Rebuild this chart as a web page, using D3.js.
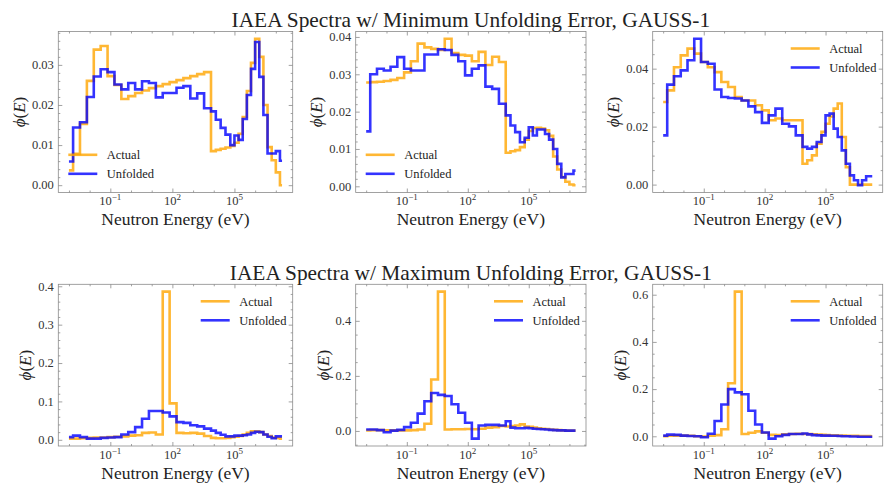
<!DOCTYPE html>
<html>
<head>
<meta charset="utf-8">
<script src="https://cdn.jsdelivr.net/npm/d3@7"></script>
<style>
  body { margin: 0; background: #fff; }
  text { font-family: "Liberation Serif", "Times New Roman", serif; fill: #222; }
</style>
</head>
<body>
<div id="container"></div>
<script>
// group boundaries (eV), shared by every spectrum
const energyEdges = [1e-3, 1.585e-3, 3.412e-3, 7.356e-3, 1.585e-2, 3.412e-2, 7.356e-2, 0.1585, 0.3412, 0.7356,
    1.585, 3.412, 7.356, 15.85, 34.12, 73.56, 158.5, 341.2, 735.6, 1585, 3412, 7356, 1.259e4, 2.153e4, 3.690e4,
    6.310e4, 1e5, 1.585e5, 2.512e5, 3.981e5, 6.310e5, 1e6, 1.585e6, 2.512e6, 3.981e6, 6.310e6, 1e7, 1.585e7, 2e7]

// minimum unfolding error spectra
const minActual1 = [0.0037, 0.0078, 0.0153, 0.026, 0.0338, 0.0347, 0.0272, 0.025, 0.0215, 0.0222, 0.023, 0.0236, 0.0242,
    0.0247, 0.0252, 0.0257, 0.0262, 0.0267, 0.0272, 0.0277, 0.0282, 0.0085, 0.0088, 0.0091, 0.0094, 0.0098, 0.0106,
    0.0128, 0.017, 0.0235, 0.0305, 0.0365, 0.032, 0.02, 0.0095, 0.0062, 0.0032, 0.0]
const minUnfolded1 = [0.0059, 0.0144, 0.0157, 0.022, 0.0271, 0.0289, 0.0282, 0.0251, 0.0239, 0.0255, 0.0239, 0.0259,
    0.0255, 0.0219, 0.023, 0.023, 0.0243, 0.0247, 0.0216, 0.0229, 0.0192, 0.0184, 0.0163, 0.0143, 0.0126, 0.0100,
    0.0124, 0.0113, 0.0165, 0.0225, 0.029, 0.0357, 0.027, 0.0175, 0.0079, 0.0079, 0.0085, 0.0061]
const minActual2 = [0.0278, 0.0279, 0.028, 0.0282, 0.0285, 0.029, 0.0305, 0.0335, 0.0382, 0.0372, 0.0368, 0.0365, 0.0395,
    0.0357, 0.0352, 0.035, 0.0335, 0.036, 0.0325, 0.0347, 0.0333, 0.009, 0.0094, 0.0097, 0.0105, 0.0125, 0.0148,
    0.0156, 0.0157, 0.0155, 0.015, 0.0135, 0.008, 0.0045, 0.0025, 0.0012, 0.0005, 0.0003]
const minUnfolded2 = [0.0147, 0.030, 0.0315, 0.031, 0.032, 0.0346, 0.0315, 0.031, 0.031, 0.0353, 0.0353, 0.0367, 0.0365,
    0.0352, 0.0335, 0.0297, 0.0315, 0.0324, 0.0267, 0.0261, 0.0221, 0.019, 0.0163, 0.0145, 0.0118, 0.013, 0.0158,
    0.0136, 0.0152, 0.0152, 0.014, 0.0125, 0.01, 0.006, 0.0024, 0.0033, 0.0033, 0.0042]
const minActual3 = [0.0285, 0.0325, 0.0405, 0.0446, 0.0469, 0.0452, 0.0423, 0.0405, 0.0388, 0.0354, 0.0337, 0.0302, 0.029,
    0.029, 0.0274, 0.0256, 0.0222, 0.0228, 0.0222, 0.0222, 0.0222, 0.0072, 0.0084, 0.0101, 0.0141, 0.0182, 0.021,
    0.0235, 0.0262, 0.028, 0.0164, 0.006, 0.0, 0.0, 0.0, 0.0, 0.0, 0.0]
const minUnfolded3 = [0.017, 0.0345, 0.0374, 0.0394, 0.0429, 0.0503, 0.0423, 0.0417, 0.0328, 0.0302, 0.0299, 0.0297, 0.029,
    0.027, 0.025, 0.0213, 0.0239, 0.0262, 0.021, 0.0201, 0.017, 0.013, 0.0124, 0.013, 0.0147, 0.017, 0.0239, 0.0245,
    0.0193, 0.0164, 0.0118, 0.0072, 0.0032, 0.0015, -0.0002, 0.0015, 0.0029, 0.0029]

// maximum unfolding error spectra
const maxActual1 = [0.003, 0.003, 0.004, 0.005, 0.006, 0.006, 0.007, 0.008, 0.009, 0.011, 0.012, 0.018, 0.019, 0.014,
    0.386, 0.095, 0.018, 0.017, 0.018, 0.016, 0.01, 0.005, 0.004, 0.004, 0.005, 0.007, 0.008, 0.01, 0.014, 0.018,
    0.022, 0.022, 0.02, 0.014, 0.01, 0.006, 0.005, 0.003]
const maxUnfolded1 = [0.007, 0.011, 0.007, 0.003, 0.003, 0.005, 0.006, 0.007, 0.014, 0.02, 0.033, 0.055, 0.075, 0.075,
    0.071, 0.061, 0.046, 0.044, 0.038, 0.035, 0.029, 0.024, 0.018, 0.013, 0.009, 0.009, 0.011, 0.011, 0.012, 0.014,
    0.018, 0.021, 0.02, 0.014, 0.008, 0.004, 0.009, 0.009]
const maxActual2 = [0.002, 0.003, 0.003, 0.002, 0.002, 0.002, 0.002, 0.003, 0.005, 0.026, 0.187, 0.506, 0.005, 0.006,
    0.006, 0.007, 0.006, 0.008, 0.012, 0.014, 0.018, 0.016, 0.018, 0.02, 0.024, 0.016, 0.015, 0.012, 0.01, 0.008,
    0.007, 0.005, 0.004, 0.003, 0.002, 0.001, 0.001, 0.001]
const maxUnfolded2 = [0.005, 0.005, 0.003, -0.005, 0.001, 0.004, 0.014, 0.03, 0.063, 0.108, 0.138, 0.131, 0.127, 0.097,
    0.066, 0.03, -0.028, 0.02, 0.022, 0.022, 0.02, 0.035, 0.012, 0.01, 0.01, 0.011, 0.01, 0.008, 0.007, 0.006, 0.005,
    0.004, 0.003, 0.002, 0.002, 0.001, 0.001, 0.001]
const maxActual3 = [0.0, 0.002, 0.003, 0.003, 0.002, 0.0, -0.001, 0.002, 0.005, 0.03, 0.225, 0.613, 0.01, 0.015, 0.021,
    0.015, 0.006, 0.005, 0.008, 0.01, 0.011, 0.01, 0.009, 0.008, 0.007, 0.006, 0.005, 0.004, 0.004, 0.003, 0.003,
    0.002, 0.002, 0.002, 0.001, 0.001, 0.001, 0.0]
const maxUnfolded3 = [0.003, 0.007, 0.006, 0.003, 0.001, 0.0, -0.004, 0.011, 0.065, 0.135, 0.2, 0.186, 0.178, 0.108,
    0.05, 0.016, -0.01, 0.0, 0.006, 0.01, 0.01, 0.012, 0.008, 0.005, 0.004, 0.003, 0.003, 0.002, 0.002, 0.001, 0.0,
    0.0, -0.001, -0.001, -0.002, -0.002, -0.002, -0.002]

// tick labels
const xTickExps = [-1, 2, 5]
const yTicksMin = [[0, 0.01, 0.02, 0.03], [0, 0.01, 0.02, 0.03, 0.04], [0, 0.02, 0.04]]
const yTicksMax = [[0, 0.1, 0.2, 0.3, 0.4], [0, 0.2, 0.4], [0, 0.2, 0.4, 0.6]]
const seriesNames = ["Actual", "Unfolded"]
const titles = ["IAEA Spectra w/ Minimum Unfolding Error, GAUSS-1", "IAEA Spectra w/ Maximum Unfolding Error, GAUSS-1"]

const width = 884
const height = 486
const colors = ["orange", "blue"]
const frameColor = "#8a8a8a"

const svg = d3.select("#container").append("svg")
    .attr("width", width)
    .attr("height", height)

const cols = [[58.3, 292.7], [355.7, 586], [652.7, 882.7]]
const rows = [[31.5, 192.5], [284.3, 446]]

const panels = [
    { col: 0, row: 0, series: [minActual1, minUnfolded1], ticks: yTicksMin[0], fmt: ".2f", legend: "ll" },
    { col: 1, row: 0, series: [minActual2, minUnfolded2], ticks: yTicksMin[1], fmt: ".2f", legend: "ll" },
    { col: 2, row: 0, series: [minActual3, minUnfolded3], ticks: yTicksMin[2], fmt: ".2f", legend: "ur" },
    { col: 0, row: 1, series: [maxActual1, maxUnfolded1], ticks: yTicksMax[0], fmt: ".1f", legend: "ur" },
    { col: 1, row: 1, series: [maxActual2, maxUnfolded2], ticks: yTicksMax[1], fmt: ".1f", legend: "ur" },
    { col: 2, row: 1, series: [maxActual3, maxUnfolded3], ticks: yTicksMax[2], fmt: ".1f", legend: "ur" }
]

function drawPanel(p) {
    const [x0, x1] = cols[p.col]
    const [y0, y1] = rows[p.row]

    const lo = Math.log10(energyEdges[0])
    const hi = Math.log10(energyEdges[energyEdges.length - 1])
    const padX = (hi - lo) * 0.05
    const x = d3.scaleLog()
        .domain([10 ** (lo - padX), 10 ** (hi + padX)])
        .range([x0, x1])

    const all = p.series[0].concat(p.series[1])
    const ymin = d3.min(all), ymax = d3.max(all)
    const padY = (ymax - ymin) * 0.05
    const y = d3.scaleLinear()
        .domain([ymin - padY, ymax + padY])
        .range([y1, y0])

    const g = svg.append("g")

    const line = d3.line()
        .x(d => x(d[0]))
        .y(d => y(d[1]))
        .curve(d3.curveStepAfter)
    const steps = vals => vals.map((v, i) => [energyEdges[i], v])
        .concat([[energyEdges[vals.length], vals[vals.length - 1]]])

    p.series.forEach((vals, i) => {
        g.append("path")
            .attr("d", line(steps(vals)))
            .attr("fill", "none")
            .attr("stroke", colors[i])
            .attr("stroke-opacity", 0.8)
            .attr("stroke-width", 2.6)
            .attr("stroke-linejoin", "miter")
    })

    // frame
    g.append("rect")
        .attr("x", x0).attr("y", y0)
        .attr("width", x1 - x0).attr("height", y1 - y0)
        .attr("fill", "none")
        .attr("stroke", frameColor)
        .attr("stroke-width", 0.8)

    // ticks, inward on all four sides
    const xMajor = xTickExps.map(e => 10 ** e)
    const xMinor = d3.range(Math.ceil(lo - padX), Math.floor(hi + padX) + 1)
        .filter(e => !xTickExps.includes(e)).map(e => 10 ** e)

    const step = p.ticks[1] - p.ticks[0]
    const mant = step / 10 ** Math.floor(Math.log10(step) + 1e-9)
    const ndivs = [1, 2.5, 5, 10].some(m => Math.abs(m - mant) < 1e-6) ? 5 : 4
    const ms = step / ndivs
    const [d0, d1] = y.domain()
    const yMinor = d3.range(Math.ceil(d0 / ms - 1e-9), Math.floor(d1 / ms + 1e-9) + 1)
        .map(k => k * ms)
        .filter(v => !p.ticks.some(t => Math.abs(t - v) < ms / 10))

    const tickAxis = (axisFn, scale, vals, size, tx, ty) => {
        g.append("g")
            .attr("transform", `translate(${tx},${ty})`)
            .attr("color", frameColor)
            .call(axisFn(scale).tickValues(vals).tickSize(-size).tickFormat(""))
            .call(a => a.select(".domain").remove())
            .call(a => a.selectAll("line").attr("stroke-width", 0.8))
    }
    tickAxis(d3.axisBottom, x, xMajor, 4, 0, y1)
    tickAxis(d3.axisBottom, x, xMinor, 2, 0, y1)
    tickAxis(d3.axisTop, x, xMajor, 4, 0, y0)
    tickAxis(d3.axisTop, x, xMinor, 2, 0, y0)
    tickAxis(d3.axisLeft, y, p.ticks, 4, x0, 0)
    tickAxis(d3.axisLeft, y, yMinor, 2, x0, 0)
    tickAxis(d3.axisRight, y, p.ticks, 4, x1, 0)
    tickAxis(d3.axisRight, y, yMinor, 2, x1, 0)

    // x tick labels 10^n
    xTickExps.forEach(e => {
        const t = g.append("text")
            .attr("x", x(10 ** e))
            .attr("y", y1 + 12.5)
            .attr("text-anchor", "middle")
            .attr("font-size", 12.5)
            .style("fill", "#333")
        t.append("tspan").text("10")
        t.append("tspan")
            .attr("dy", -5)
            .attr("font-size", 9)
            .text(String(e).replace("-", "\u2212"))
    })

    // y tick labels
    const fmt = d3.format(p.fmt)
    const labels = g.append("g")
    labels.selectAll("text")
        .data(p.ticks)
        .enter().append("text")
        .attr("x", x0 - 4.5)
        .attr("y", d => y(d) + 4.3)
        .attr("text-anchor", "end")
        .attr("font-size", 12.5)
        .style("fill", "#333")
        .text(d => fmt(d))
    let widest = 0
    labels.selectAll("text").each(function () { widest = Math.max(widest, this.getComputedTextLength()) })

    // y label
    const yl = g.append("text")
        .attr("transform", `translate(${x0 - 4.5 - widest - 7},${(y0 + y1) / 2}) rotate(-90)`)
        .attr("text-anchor", "middle")
        .attr("font-size", 17)
    yl.append("tspan").attr("font-style", "italic").text("\u03d5")
    yl.append("tspan").text("(")
    yl.append("tspan").attr("font-style", "italic").text("E")
    yl.append("tspan").text(")")

    // x label
    g.append("text")
        .attr("x", (x0 + x1) / 2)
        .attr("y", y1 + 32.5)
        .attr("text-anchor", "middle")
        .attr("font-size", 17.5)
        .text("Neutron Energy (eV)")

    // legend
    const lx = p.legend === "ll" ? x0 + 10 : x1 - 92
    const ly = p.legend === "ll" ? y1 - 37.7 : y0 + 17
    seriesNames.forEach((name, i) => {
        g.append("line")
            .attr("x1", lx).attr("x2", lx + 29)
            .attr("y1", ly + i * 19).attr("y2", ly + i * 19)
            .attr("stroke", colors[i])
            .attr("stroke-opacity", 0.8)
            .attr("stroke-width", 2.6)
        g.append("text")
            .attr("x", lx + 38.5)
            .attr("y", ly + i * 19 + 4.3)
            .attr("font-size", 12.5)
            .text(name)
    })
}

panels.forEach(drawPanel)

// titles sit over the middle column
titles.forEach((t, i) => {
    svg.append("text")
        .attr("x", (cols[1][0] + cols[1][1]) / 2)
        .attr("y", i === 0 ? 27 : 280)
        .attr("text-anchor", "middle")
        .attr("font-size", 21.4)
        .text(t)
})
</script>
</body>
</html>
